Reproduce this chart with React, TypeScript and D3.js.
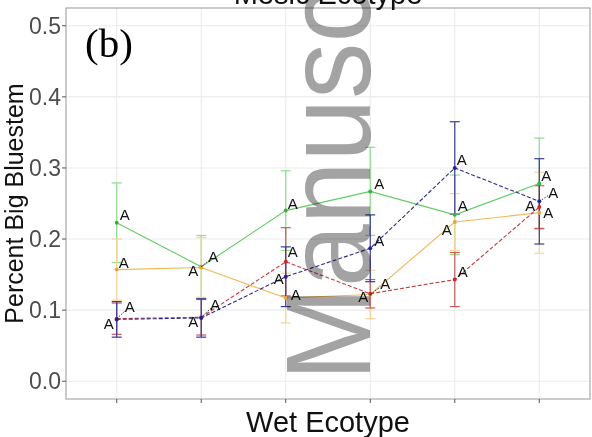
import * as d3 from "d3";

const WIDTH = 592;
const HEIGHT = 437;
const PANEL = { left: 66, right: 590, top: 8, bottom: 399 };

// treatment levels on the x axis (their tick labels are blank in the figure)
const CATEGORIES = ["1", "2", "3", "4", "5", "6"];
const Y_TICKS = [0, 0.1, 0.2, 0.3, 0.4, 0.5];

const GREEN_MEAN = [0.223, 0.161, 0.24, 0.267, 0.234, 0.278];
const GREEN_SE = [0.056, 0.044, 0.056, 0.062, 0.056, 0.064];
const ORANGE_MEAN = [0.157, 0.16, 0.117, 0.122, 0.224, 0.237];
const ORANGE_SE = [0.043, 0.042, 0.035, 0.034, 0.04, 0.057];
const RED_MEAN = [0.088, 0.09, 0.168, 0.123, 0.143, 0.245];
const RED_SE = [0.022, 0.025, 0.048, 0.02, 0.038, 0.03];
const BLUE_MEAN = [0.087, 0.089, 0.147, 0.187, 0.3, 0.253];
const BLUE_SE = [0.025, 0.027, 0.042, 0.047, 0.065, 0.06];

const GREEN_LETTERS = ["A", "A", "A", "A", "A", "A"];
const ORANGE_LETTERS = ["A", "A", "A", "A", "A", "A"];
const RED_LETTERS = ["A", "A", "A", "A", "A", "A"];
const BLUE_LETTERS = ["A", "A", "A", "A", "A", "A"];

// where the repelled letter sits relative to its point, in pixels
const GREEN_NUDGE = [[8, -8], [12, -10], [7, -7], [9, -8], [8, -9], [7, -8]];
const ORANGE_NUDGE = [[7, -7], [-8, 3], [10, -4], [15, -11], [-8, 8], [9, 0]];
const RED_NUDGE = [[13, -12], [14, -13], [7, -10], [-7, 3], [8, -8], [-9, -2]];
const BLUE_NUDGE = [[-8, 4], [-8, 4], [-7, 2], [9, -8], [7, -8], [14, -9]];

const SERIES = [
  { key: "green", mean: GREEN_MEAN, se: GREEN_SE, letters: GREEN_LETTERS, nudge: GREEN_NUDGE, line: "#62cc62", bar: "#8edc8e", dot: "#3fae3f", dash: "" },
  { key: "orange", mean: ORANGE_MEAN, se: ORANGE_SE, letters: ORANGE_LETTERS, nudge: ORANGE_NUDGE, line: "#f0b857", bar: "#f6d496", dot: "#e8a838", dash: "" },
  { key: "red", mean: RED_MEAN, se: RED_SE, letters: RED_LETTERS, nudge: RED_NUDGE, line: "#c83a3a", bar: "#c85a5a", dot: "#c82828", dash: "4 2" },
  { key: "blue", mean: BLUE_MEAN, se: BLUE_SE, letters: BLUE_LETTERS, nudge: BLUE_NUDGE, line: "#2c2c8c", bar: "#3a3a9a", dot: "#2020a0", dash: "4 2" }
];

const FONT = "'Liberation Sans', Arial, sans-serif";

export default function App() {
  const x = d3.scalePoint<string>().domain(CATEGORIES).range([PANEL.left, PANEL.right]).padding(0.6);
  const y = d3.scaleLinear().domain([-0.025, 0.525]).range([PANEL.bottom, PANEL.top]);

  const line = d3
    .line<number>()
    .x((_, i) => x(CATEGORIES[i]) as number)
    .y((v) => y(v));

  const cap = 5;

  return (
    <svg width={WIDTH} height={HEIGHT} style={{ position: "absolute", left: 0, top: 0, background: "#fff" }}>
      <rect x={0} y={0} width={WIDTH} height={HEIGHT} fill="#fff" />

      {/* grid */}
      {Y_TICKS.map((t) => (
        <line key={`gy${t}`} x1={PANEL.left} x2={PANEL.right} y1={y(t)} y2={y(t)} stroke="#ebebeb" strokeWidth={1.1} />
      ))}
      {CATEGORIES.map((c) => (
        <line key={`gx${c}`} x1={x(c)} x2={x(c)} y1={PANEL.top} y2={PANEL.bottom} stroke="#ebebeb" strokeWidth={1.1} />
      ))}

      {/* error bars */}
      {SERIES.map((s) =>
        s.mean.map((m, i) => {
          const cx = x(CATEGORIES[i]) as number;
          const lo = y(m - s.se[i]);
          const hi = y(m + s.se[i]);
          return (
            <g key={`eb${s.key}${i}`} stroke={s.bar} strokeWidth={1.2}>
              <line x1={cx} x2={cx} y1={lo} y2={hi} />
              <line x1={cx - cap} x2={cx + cap} y1={lo} y2={lo} />
              <line x1={cx - cap} x2={cx + cap} y1={hi} y2={hi} />
            </g>
          );
        })
      )}

      {/* lines */}
      {SERIES.map((s) => (
        <path key={`ln${s.key}`} d={line(s.mean) ?? ""} fill="none" stroke={s.line} strokeWidth={1.1} strokeDasharray={s.dash} />
      ))}

      {/* points */}
      {SERIES.map((s) =>
        s.mean.map((m, i) => (
          <circle key={`pt${s.key}${i}`} cx={x(CATEGORIES[i])} cy={y(m)} r={2} fill={s.dot} />
        ))
      )}

      {/* repelled letters */}
      {SERIES.map((s) =>
        s.mean.map((m, i) => {
          const cx = x(CATEGORIES[i]) as number;
          const cy = y(m);
          const [dx, dy] = s.nudge[i];
          const dist = Math.hypot(dx, dy);
          const far = dist > 14;
          return (
            <g key={`lb${s.key}${i}`}>
              {far && (
                <line
                  x1={cx}
                  y1={cy}
                  x2={cx + dx * (1 - 6 / dist)}
                  y2={cy + dy * (1 - 6 / dist)}
                  stroke="#222"
                  strokeWidth={0.9}
                  strokeDasharray="1.5 1.5"
                />
              )}
              <text
                x={cx + dx}
                y={cy + dy}
                textAnchor="middle"
                dominantBaseline="central"
                fontFamily={FONT}
                fontSize={15}
                fill="#111"
              >
                {s.letters[i]}
              </text>
            </g>
          );
        })
      )}

      {/* panel border */}
      <rect
        x={PANEL.left}
        y={PANEL.top}
        width={PANEL.right - PANEL.left}
        height={PANEL.bottom - PANEL.top}
        fill="none"
        stroke="#a8a8a8"
        strokeWidth={1.2}
      />

      {/* y axis */}
      {Y_TICKS.map((t) => (
        <g key={`yt${t}`}>
          <line x1={PANEL.left - 4} x2={PANEL.left} y1={y(t)} y2={y(t)} stroke="#555" strokeWidth={1} />
          <text
            x={PANEL.left - 5}
            y={y(t)}
            textAnchor="end"
            dominantBaseline="central"
            fontFamily={FONT}
            fontSize={23}
            fill="#4d4d4d"
          >
            {d3.format(".1f")(t)}
          </text>
        </g>
      ))}

      {/* x axis ticks (labels blank) */}
      {CATEGORIES.map((c) => (
        <line key={`xt${c}`} x1={x(c)} x2={x(c)} y1={PANEL.bottom} y2={PANEL.bottom + 4} stroke="#555" strokeWidth={1} />
      ))}

      <text
        x={(PANEL.left + PANEL.right) / 2}
        y={4}
        textAnchor="middle"
        fontFamily={FONT}
        fontSize={29}
        fill="#111"
      >
        Mesic Ecotype
      </text>
      <text
        x={(PANEL.left + PANEL.right) / 2}
        y={432}
        textAnchor="middle"
        fontFamily={FONT}
        fontSize={29}
        fill="#111"
      >
        Wet Ecotype
      </text>
      <text
        transform={`translate(23, ${(PANEL.top + PANEL.bottom) / 2}) rotate(-90)`}
        textAnchor="middle"
        fontFamily={FONT}
        fontSize={25}
        fill="#111"
      >
        Percent Big Bluestem
      </text>
      <text x={85} y={57} fontFamily="'Liberation Serif', 'Times New Roman', serif" fontSize={41} fill="#000">
        (b)
      </text>

      {/* manuscript watermark */}
      <text
        transform="translate(370, 381) rotate(-90) scale(0.94, 1)"
        fontFamily={FONT}
        fontSize={120}
        fill="#a3a3a3"
        style={{ mixBlendMode: "multiply" }}
      >
        Manuscript
      </text>
    </svg>
  );
}
